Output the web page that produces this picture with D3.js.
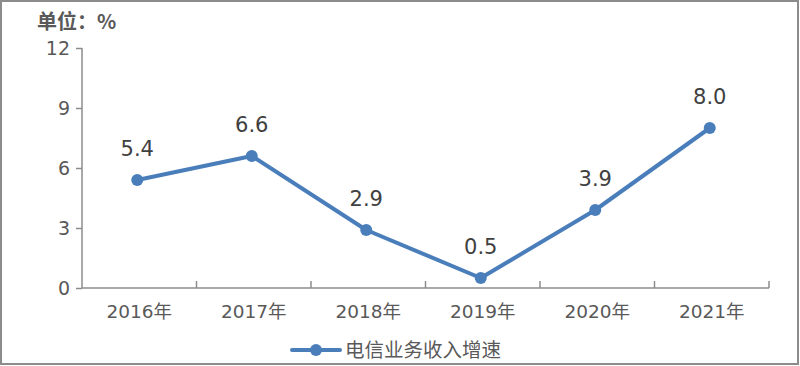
<!DOCTYPE html>
<html><head><meta charset="utf-8">
<script src="https://cdn.jsdelivr.net/npm/d3@7"></script>
<style>body{margin:0;background:#fff}svg{display:block}</style>
</head><body>
<svg id="c" width="800" height="366"></svg>
<script>
const years = ["2016年","2017年","2018年","2019年","2020年","2021年"];
const values = [5.4, 6.6, 2.9, 0.5, 3.9, 8.0];
const yTicks = [0, 3, 6, 9, 12];
const seriesName = "电信业务收入增速";
const unitLabel = "单位：%";

(function(){
const svg = d3.select("#c");
const font = "'DejaVu Sans','Noto Sans CJK SC',sans-serif";
const cjk = "'Noto Sans CJK SC','DejaVu Sans',sans-serif";
const color = "#4a7ebb";
const axisColor = "#8c8c8c";
const textColor = "#595959";

svg.append("rect").attr("x",1).attr("y",1).attr("width",797).attr("height",363)
  .attr("fill","#fff").attr("stroke","#8c8c8c").attr("stroke-width",2);

const mLeft = 82, mRight = 769, mTop = 48, mBottom = 288;
const x = d3.scaleBand().domain(years).range([mLeft, mRight]);
const y = d3.scaleLinear().domain([0, 12]).range([mBottom, mTop]);

// y axis
const ya = svg.append("g").attr("transform",`translate(${mLeft},0)`)
  .call(d3.axisLeft(y).tickValues(yTicks).tickSize(6).tickPadding(6));
ya.select(".domain").attr("stroke",axisColor).attr("stroke-width",1.5).attr("d",`M0,${mTop}V${mBottom}`);
ya.selectAll(".tick line").attr("stroke",axisColor).attr("stroke-width",1.5);
ya.selectAll("text").attr("fill",textColor).style("font-family",font).style("font-size","19px");

// x axis
const xa = svg.append("g").attr("transform",`translate(0,${mBottom})`);
xa.append("line").attr("x1",mLeft).attr("x2",mRight).attr("stroke",axisColor).attr("stroke-width",1.5);
const bounds = years.map(d=>x(d)+x.bandwidth());
xa.selectAll("line.t").data(bounds).join("line").attr("class","t")
  .attr("x1",d=>d).attr("x2",d=>d).attr("y1",0).attr("y2",-7)
  .attr("stroke",axisColor).attr("stroke-width",1.5);
xa.selectAll("text").data(years).join("text")
  .attr("x",d=>x(d)+x.bandwidth()/2).attr("y",30)
  .attr("text-anchor","middle").attr("fill",textColor)
  .style("font-family",font).style("font-size","18.5px").text(d=>d);

// line
const cx = (d,i)=>x(years[i])+x.bandwidth()/2 - 2;
const line = d3.line().x((d,i)=>cx(d,i)).y(d=>y(d));
svg.append("path").datum(values).attr("d",line).attr("fill","none")
  .attr("stroke",color).attr("stroke-width",4).attr("stroke-linejoin","round");
svg.selectAll("circle.p").data(values).join("circle").attr("class","p")
  .attr("cx",(d,i)=>cx(d,i)).attr("cy",d=>y(d)).attr("r",6).attr("fill",color);
svg.selectAll("text.v").data(values).join("text").attr("class","v")
  .attr("x",(d,i)=>cx(d,i)).attr("y",d=>y(d)-24)
  .attr("text-anchor","middle").attr("fill","#404040")
  .style("font-family",font).style("font-size","21px").text(d=>d.toFixed(1));

// unit
svg.append("text").attr("x",37).attr("y",29).attr("fill",textColor)
  .style("font-family",cjk).style("font-size","20px").style("font-weight","bold").text(unitLabel);

// legend
const lg = svg.append("g");
lg.append("line").attr("x1",292).attr("x2",340).attr("y1",350).attr("y2",350)
  .attr("stroke",color).attr("stroke-width",4).attr("stroke-linecap","round");
lg.append("circle").attr("cx",316).attr("cy",350).attr("r",6).attr("fill",color);
lg.append("text").attr("x",345).attr("y",357).attr("fill",textColor)
  .style("font-family",cjk).style("font-size","19.5px").text(seriesName);
})();
</script>
</body></html>
